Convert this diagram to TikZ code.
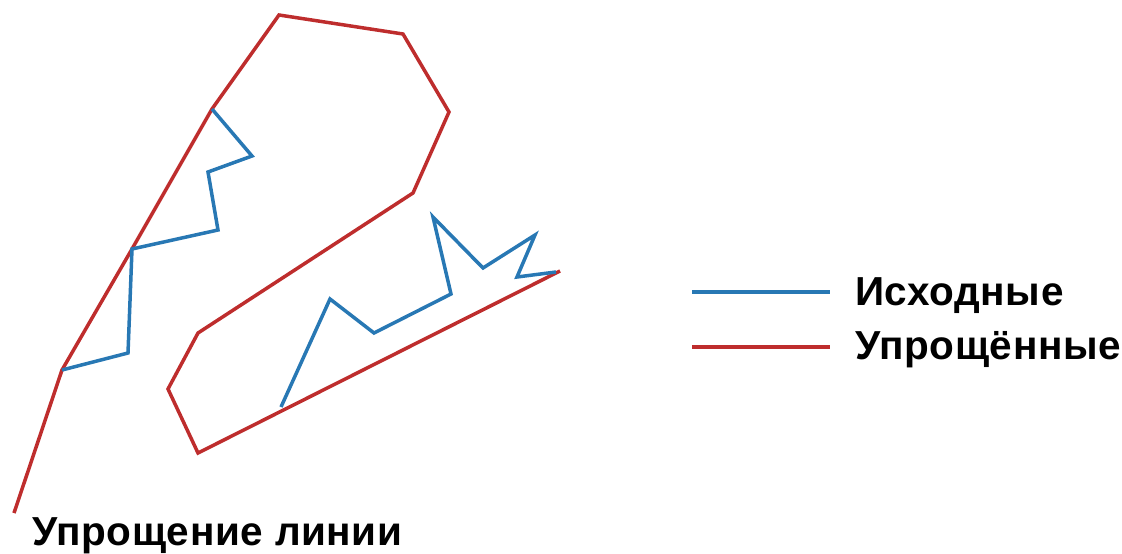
\documentclass[tikz,border=0pt]{standalone}
\usepackage{fontspec}
\setmainfont{Liberation Sans}
\usepackage{tikz}
\usetikzlibrary{positioning}

\definecolor{origblue}{RGB}{40,120,180}
\definecolor{simpred}{RGB}{190,45,45}

\begin{document}
\begin{tikzpicture}[x=1pt, y=-1pt, line join=miter,
    orig/.style={draw=origblue, line width=3.5pt},
    simp/.style={draw=simpred, line width=3.5pt},
    legtext/.style={anchor=base west, inner sep=0pt,
      font=\fontsize{40.5}{43}\selectfont\bfseries\addfontfeature{LetterSpace=1.5}}]
  \useasboundingbox (0,0) rectangle (1122,554);
  % simplified line
  \draw[simp] (14,513) -- (62,370) -- (132,249) -- (212,109) -- (279,15) -- (403,34)
    -- (449,112) -- (413,193) -- (198,333) -- (168,389) -- (198,453) -- (560,271);
  % original line
  \draw[orig] (62,370) -- (128,353) -- (132,249) -- (218,230) -- (208,172)
    -- (252,156) -- (212,109);
  \draw[orig] (281,407) -- (330,299) -- (374,333) -- (451,294) -- (433,217)
    -- (483,268) -- (535,235) -- (517,277) -- (556,272);
  % legend
  \coordinate (origA) at (692,292);
  \coordinate (origB) at (830,292);
  \coordinate (simpA) at (692,347);
  \coordinate (simpB) at (830,347);
  \draw[orig, line width=4pt] (origA) -- (origB);
  \draw[simp, line width=4pt] (simpA) -- (simpB);
  \node[legtext] (origlbl) at (855,305) {Исходные};
  \node[legtext] (simplbl) at (855,359) {Упрощённые};
  \node[legtext] (title) at (32,545) {Упрощение линии};
\end{tikzpicture}
\end{document}
